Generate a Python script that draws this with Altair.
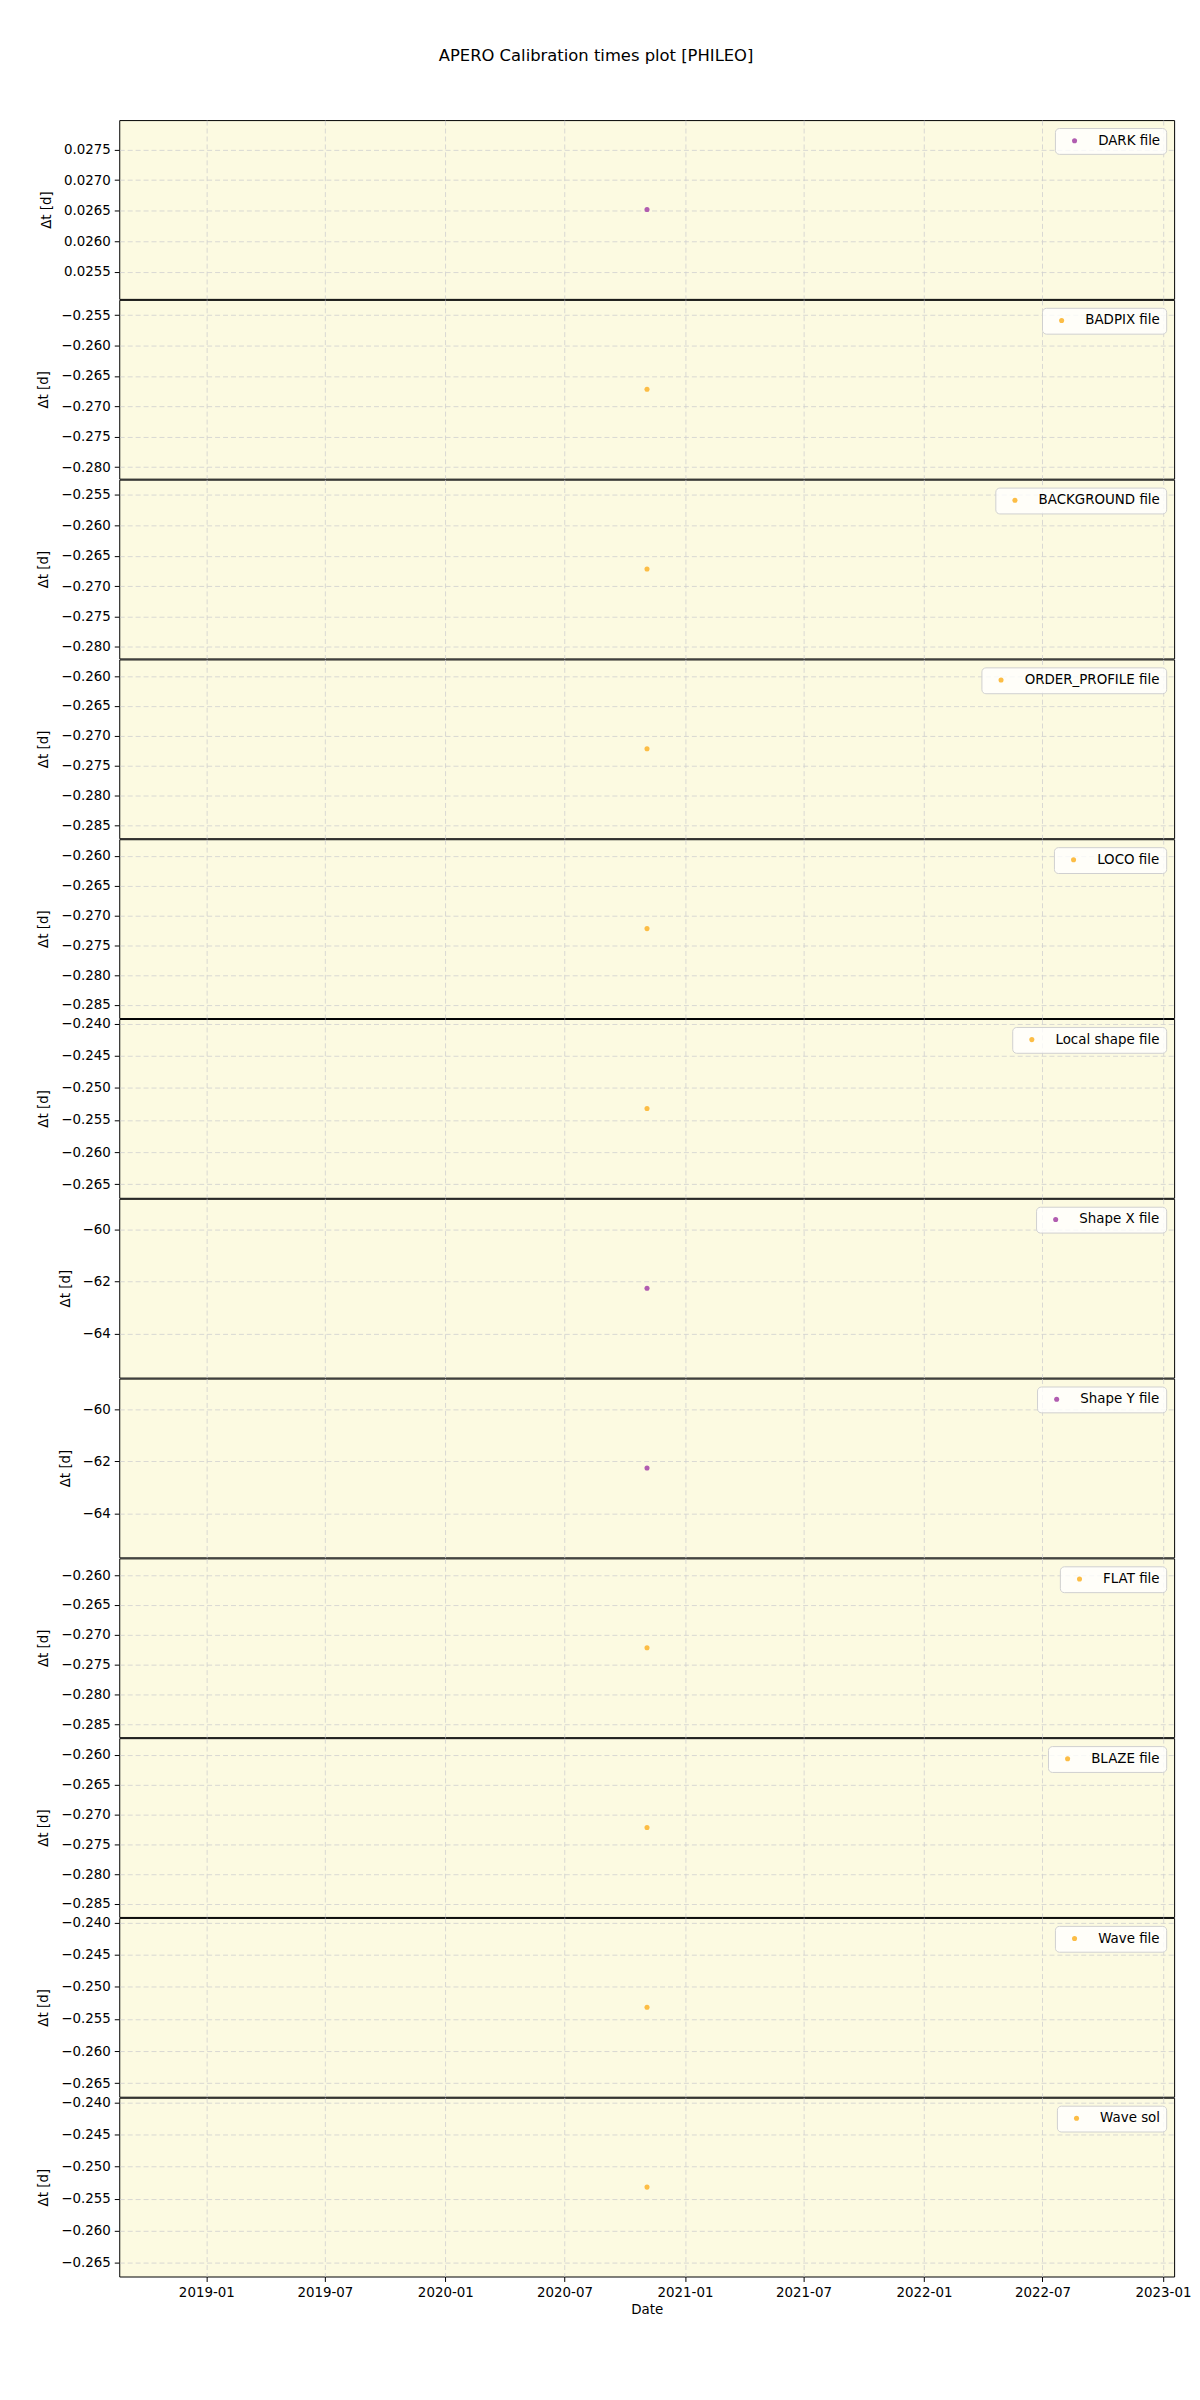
import altair as alt
import pandas as pd

# ---- data ----
labels = ["DARK file", "BADPIX file", "BACKGROUND file", "ORDER_PROFILE file",
          "LOCO file", "Local shape file", "Shape X file", "Shape Y file",
          "FLAT file", "BLAZE file", "Wave file", "Wave sol"]
dates = ["2020-11-04"] * 12
dt_values = [0.02652, -0.2672, -0.2672, -0.2722, -0.2722, -0.2532,
             -62.25, -62.25, -0.2722, -0.2722, -0.2532, -0.2532]
kinds = ["purple", "orange", "orange", "orange", "orange", "orange",
         "purple", "purple", "orange", "orange", "orange", "orange"]

y_lo = [0.02506, -0.2819, -0.2819, -0.2872, -0.2872, -0.2671,
        -65.67, -65.67, -0.2872, -0.2872, -0.2671, -0.2671]
y_hi = [0.02798, -0.2525, -0.2525, -0.2572, -0.2572, -0.2393,
        -58.83, -58.83, -0.2572, -0.2572, -0.2393, -0.2393]
ticks_dark = [0.0255, 0.0260, 0.0265, 0.0270, 0.0275]
ticks_a = [-0.255, -0.260, -0.265, -0.270, -0.275, -0.280]
ticks_b = [-0.260, -0.265, -0.270, -0.275, -0.280, -0.285]
ticks_c = [-0.240, -0.245, -0.250, -0.255, -0.260, -0.265]
ticks_s = [-60, -62, -64]
y_ticks = [ticks_dark, ticks_a, ticks_a, ticks_b, ticks_b, ticks_c,
           ticks_s, ticks_s, ticks_b, ticks_b, ticks_c, ticks_c]
y_formats = [".4f", ".3f", ".3f", ".3f", ".3f", ".3f",
             "d", "d", ".3f", ".3f", ".3f", ".3f"]

x_start = (2018, 8, 21)
x_end = (2023, 1, 18)

COLORS = {"purple": "#b15db0", "orange": "#fcbd45"}
FONT = "DejaVu Sans"
GRID = "#cfcfcf"

panels = []
n = len(labels)
for i in range(n):
    df = pd.DataFrame({"date": [dates[i]], "dt": [dt_values[i]], "label": [labels[i]]})
    last = i == n - 1
    xaxis = alt.Axis(
        labelExpr="utcFormat(datum.value, '%Y-%m')",
        tickCount={"interval": "month", "step": 6},
        labels=last, ticks=last, title="Date" if last else None,
        grid=True, gridColor=GRID, gridDash=[5, 3], gridWidth=0.8,
        domain=False, tickColor="black", tickSize=5, labelPadding=4,
        labelFontSize=13.5, titleFontSize=13.5, titleFontWeight="normal",
        labelFont=FONT, titleFont=FONT, labelColor="black", titleColor="black",
        titlePadding=4, labelOverlap=False,
    )
    yaxis = alt.Axis(
        values=y_ticks[i], format=y_formats[i], title="Δt [d]",
        grid=True, gridColor=GRID, gridDash=[5, 3], gridWidth=0.8,
        domain=False, tickColor="black", tickSize=5, labelPadding=4,
        labelFontSize=13.5, titleFontSize=13.5, titleFontWeight="normal",
        labelFont=FONT, titleFont=FONT, labelColor="black", titleColor="black",
        titlePadding=10,
    )
    ch = alt.Chart(df).mark_point(filled=True, size=26, opacity=1).encode(
        x=alt.X("date:T", axis=xaxis,
                scale=alt.Scale(type="utc", domain=[
                    alt.DateTime(year=x_start[0], month=x_start[1], date=x_start[2], utc=True),
                    alt.DateTime(year=x_end[0], month=x_end[1], date=x_end[2], utc=True)])),
        y=alt.Y("dt:Q", axis=yaxis,
                scale=alt.Scale(domain=[y_lo[i], y_hi[i]], zero=False, nice=False)),
        color=alt.Color("label:N",
                        scale=alt.Scale(domain=[labels[i]], range=[COLORS[kinds[i]]]),
                        legend=alt.Legend(orient="top-right", title=None)),
    ).properties(width=1062, height=180)
    panels.append(ch)

chart = alt.vconcat(*panels, spacing=1, bounds="flush").resolve_scale(
    x="independent", y="independent", color="independent"
).resolve_legend(color="independent").properties(
    title=alt.TitleParams("APERO Calibration times plot [PHILEO]", fontSize=16.5,
                          font=FONT, fontWeight="normal", color="black",
                          anchor="middle", offset=55, dx=-18),
    padding={"left": 28, "top": 33, "right": 0, "bottom": 5},
).configure_view(
    fill="#fcfae1", stroke="black", strokeWidth=1
).configure_legend(
    fillColor="rgba(255,255,255,0.8)", strokeColor="#d0d0d0", cornerRadius=4,
    padding=6, offset=8, labelFontSize=13.5, labelFont=FONT, labelColor="black",
    symbolType="circle", symbolSize=26, symbolOffset=7, labelOffset=17,
    symbolStrokeWidth=0,
)

chart.save("out.html", embed_options={"renderer": "svg", "actions": False})
